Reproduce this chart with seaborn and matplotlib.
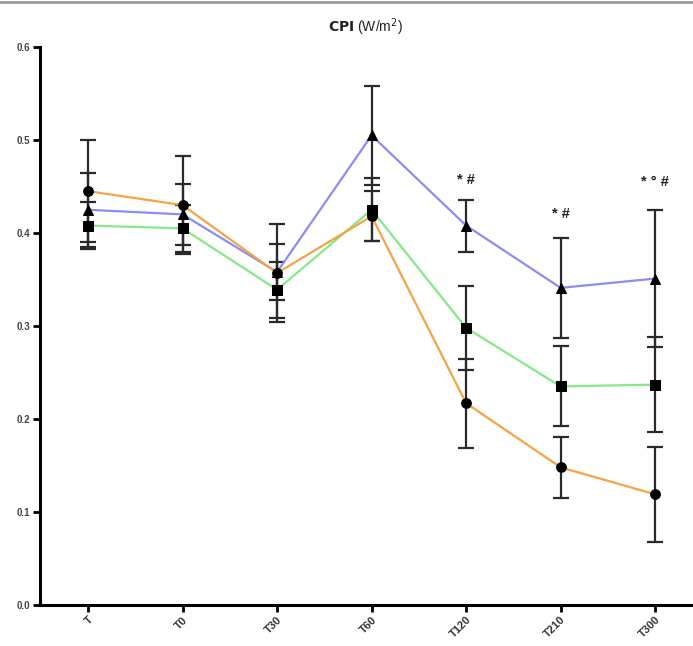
import numpy as np
import pandas as pd
import matplotlib
matplotlib.use("Agg")
import matplotlib.pyplot as plt
import seaborn as sns

sns.set_style("white")
plt.rcParams["font.family"] = ["Liberation Sans", "DejaVu Sans"]

# Time points
timepoints = ["T", "T0", "T30", "T60", "T120", "T210", "T300"]

# CPI means and error half-widths per group
orange_mean = [0.445, 0.430, 0.357, 0.418, 0.217, 0.148, 0.119]
orange_err = [0.055, 0.053, 0.053, 0.027, 0.048, 0.033, 0.051]
blue_mean = [0.425, 0.420, 0.358, 0.505, 0.408, 0.341, 0.351]
blue_err = [0.040, 0.033, 0.030, 0.053, 0.028, 0.054, 0.074]
green_mean = [0.408, 0.405, 0.339, 0.425, 0.298, 0.235, 0.237]
green_err = [0.025, 0.025, 0.030, 0.034, 0.045, 0.043, 0.051]

# Significance markers above selected time points
sig_labels = ["* #", "* #", "* ° #"]
sig_positions = ["T120", "T210", "T300"]
sig_heights = [0.457, 0.420, 0.455]

groups = [
    ("green", green_mean, green_err, "#86e886", "s"),
    ("blue", blue_mean, blue_err, "#8c8cf2", "^"),
    ("orange", orange_mean, orange_err, "#f4a444", "o"),
]

fig = plt.figure(figsize=(6.93, 6.46), dpi=100)
ax = fig.add_axes([40 / 693, 1 - 605 / 646, 1 - 40 / 693, 558 / 646])

xpos = np.arange(len(timepoints))
for name, mean, err, color, marker in groups:
    df = pd.DataFrame({"x": xpos, "y": mean})
    ax.errorbar(xpos, mean, yerr=err, fmt="none", ecolor="#2a2a2a",
                elinewidth=1.6, capsize=6, capthick=1.6, zorder=2)
    sns.lineplot(data=df, x="x", y="y", ax=ax, color=color, lw=1.6,
                 marker=marker, markersize=7, markerfacecolor="black",
                 markeredgecolor="black", zorder=3)

for lab, pos, h in zip(sig_labels, sig_positions, sig_heights):
    ax.text(timepoints.index(pos), h, lab, ha="center", va="center",
            fontsize=10.5, fontweight="bold", color="#222222")

ax.set_xlim(-0.508, 6.40)
ax.set_ylim(0, 0.6)
ax.set_xticks(xpos)
ax.set_xticklabels(timepoints, rotation=45, ha="right", rotation_mode="anchor",
                   fontsize=8, fontweight="bold", color="#333333")
ax.set_yticks([0.0, 0.1, 0.2, 0.3, 0.4, 0.5, 0.6])
ax.set_yticklabels(["0.0", "0.1", "0.2", "0.3", "0.4", "0.5", "0.6"],
                   fontsize=7, fontweight="bold", color="#444444")
ax.tick_params(axis="both", direction="out", length=5, width=2, color="black",
               bottom=True, left=True, pad=2)
ax.set_xlabel("")
ax.set_ylabel("")
for side in ["top", "right"]:
    ax.spines[side].set_visible(False)
for side in ["left", "bottom"]:
    ax.spines[side].set_linewidth(2.2)
    ax.spines[side].set_color("black")

fig.text(0.527, 1 - 27 / 646, r"$\mathbf{CPI}$ (W/m$^2$)", ha="center",
         va="center", fontsize=10, color="#222222")

# thin rule along the top edge
fig.add_artist(plt.Line2D([0, 1], [0.997, 0.997], color="#999999", lw=2,
                          transform=fig.transFigure))

fig.savefig("out.png", dpi=100)
